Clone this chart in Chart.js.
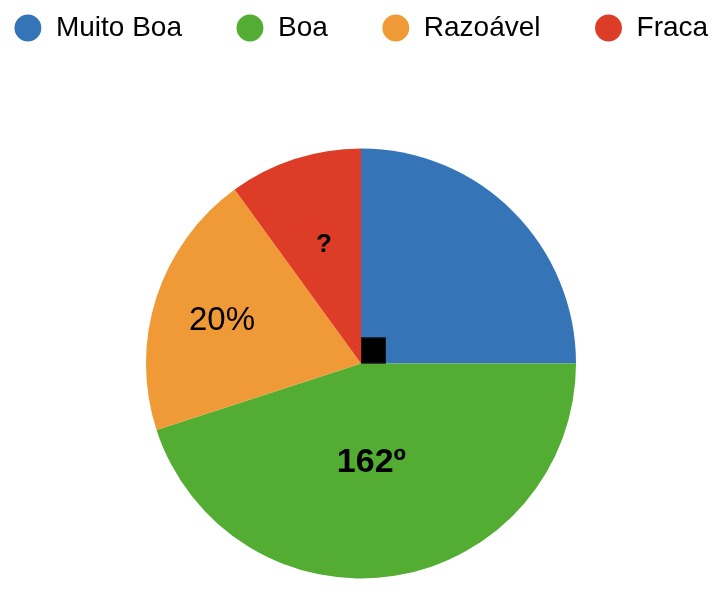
<!DOCTYPE html>
<html><head><meta charset="utf-8">
<script src="https://cdn.jsdelivr.net/npm/chart.js@4"></script>
<style>html,body{margin:0;padding:0;background:#fff}#w{width:722px;height:597px}</style>
</head><body><div id="w"><canvas id="c"></canvas></div>
<script>
const categories = ['Muito Boa', 'Boa', 'Razoável', 'Fraca'];
const values = [25, 45, 20, 10];
const colors = ['#3474B7', '#53AD33', '#F09A37', '#DD3D27'];
const sliceTexts = ['', '162º', '20%', '?'];
const sliceBold = [false, true, false, true];
const sliceFontSize = [0, 34, 33, 26];
const sliceTextRadius = [0, 0.463, 0.677, 0.58];
const sliceTextAngleShift = [0, 3, -0.8, 0.7];

const legendSpace = {
  id: 'legendSpace',
  beforeInit(chart) {
    const origFit = chart.legend.fit;
    chart.legend.fit = function () {
      origFit.call(this);
      this.height += 78;
    };
  }
};

const overlay = {
  id: 'overlay',
  afterDatasetsDraw(chart) {
    const ctx = chart.ctx;
    const arcs = chart.getDatasetMeta(0).data;
    const cx = arcs[0].x, cy = arcs[0].y;
    ctx.save();
    // right-angle marker
    ctx.fillStyle = '#000';
    ctx.fillRect(cx, cy - 26, 25, 26);
    ctx.strokeStyle = '#1a1a1a';
    ctx.lineWidth = 1;
    ctx.strokeRect(cx + 0.5, cy - 25.5, 24, 25);
    arcs.forEach((a, i) => {
      if (!sliceTexts[i]) return;
      const mid = (a.startAngle + a.endAngle) / 2 + sliceTextAngleShift[i] * Math.PI / 180;
      const r = a.outerRadius * sliceTextRadius[i];
      ctx.font = (sliceBold[i] ? 'bold ' : '') + sliceFontSize[i] + 'px "Liberation Sans", Arial, sans-serif';
      ctx.fillStyle = '#000';
      ctx.textAlign = 'center';
      ctx.textBaseline = 'middle';
      ctx.fillText(sliceTexts[i], cx + Math.cos(mid) * r, cy + Math.sin(mid) * r);
    });
    ctx.restore();
  }
};

new Chart(document.getElementById('c'), {
  type: 'pie',
  data: {
    labels: categories,
    datasets: [{ data: values, backgroundColor: colors, borderWidth: 0 }]
  },
  options: {
    responsive: true,
    maintainAspectRatio: false,
    animation: false,
    radius: 215,
    layout: { padding: { top: -40, bottom: 0, left: -50, right: -50 } },
    plugins: {
      tooltip: { enabled: false },
      legend: {
        position: 'top',
        labels: {
          usePointStyle: true,
          pointStyle: 'circle',
          boxWidth: 28,
          boxHeight: 19,
          padding: 54,
          color: '#000',
          font: { size: 28, family: '"Liberation Sans", Arial, sans-serif' }
        }
      }
    }
  },
  plugins: [legendSpace, overlay]
});
</script>
</body></html>
